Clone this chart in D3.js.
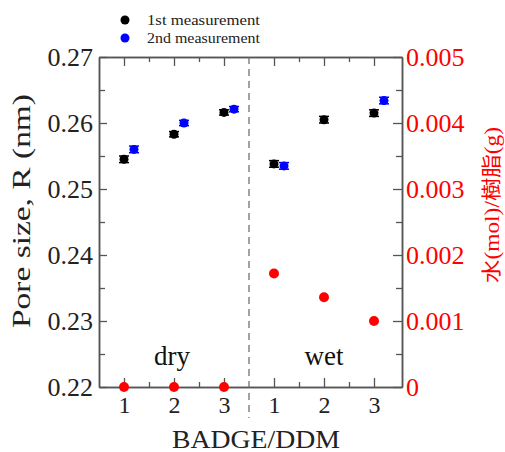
<!DOCTYPE html>
<html>
<head>
<meta charset="utf-8">
<script src="https://cdn.jsdelivr.net/npm/d3@7"></script>
<style>
  body { margin: 0; background: #fff; }
  svg { display: block; }
  svg text { font-family: "Liberation Serif", "Times New Roman", Times, serif; }
  svg text.cjk { font-family: "Liberation Serif", "Noto Sans CJK JP", serif; }
</style>
</head>
<body>
<div class="chart"></div>
<script>
// sample positions: dry 1-3 then wet 1-3
var xPos = [1, 2, 3, 4, 5, 6];
var xTickLabels = ["1", "2", "3", "1", "2", "3"];

// pore size (nm), 1st and 2nd measurement
var firstMeas = [0.2545, 0.2583, 0.2616, 0.2538, 0.2605, 0.2615];
var firstErr  = [0.0005, 0.0004, 0.0004, 0.0005, 0.0005, 0.0005];
var secondMeas = [0.2560, 0.2600, 0.2621, 0.2535, null, 0.2634];
var secondErr  = [0.0005, 0.0004, 0.0004, 0.0005, null, 0.0005];

// water (mol) / resin (g)
var water = [0, 0, 0, 0.00172, 0.00136, 0.00100];

var leftMajor = [0.22, 0.23, 0.24, 0.25, 0.26, 0.27];
var leftMinor = [0.225, 0.235, 0.245, 0.255, 0.265];
var rightMajor = [0, 0.001, 0.002, 0.003, 0.004, 0.005];
var rightMinor = [0.0005, 0.0015, 0.0025, 0.0035, 0.0045];
var xMinor = [1.5, 2.5, 4.5, 5.5];

var width = 505,
    height = 452;

// plot box (note: "top" is reserved on window, so prefix)
var pLeft = 99, pRight = 402, pTop = 57, pBottom = 387;

var x = d3.scaleLinear().domain([0.5, 6.56]).range([pLeft, pRight]);
var yL = d3.scaleLinear().domain([0.22, 0.27]).range([pBottom, pTop]);
var yR = d3.scaleLinear().domain([0, 0.005]).range([pBottom, pTop]);

var svg = d3.select(".chart").append("svg")
    .attr("width", width)
    .attr("height", height);

var axisColor = "#555";

function styleAxis(g, textColor) {
    g.select(".domain").attr("stroke", axisColor).attr("stroke-width", 1.5);
    g.selectAll(".tick line").attr("stroke", axisColor).attr("stroke-width", 1.3);
    g.selectAll(".tick text").attr("fill", textColor);
}

// left axis
var gl = svg.append("g").attr("transform", "translate(" + pLeft + ",0)")
    .call(d3.axisLeft(yL).tickValues(leftMajor).tickSize(-8).tickSizeOuter(0).tickPadding(6)
        .tickFormat(d3.format(".2f")))
    .attr("font-size", 26);
styleAxis(gl, "#222");
svg.append("g").attr("transform", "translate(" + pLeft + ",0)")
    .call(d3.axisLeft(yL).tickValues(leftMinor).tickSize(-6).tickSizeOuter(0).tickFormat(""))
    .call(function(g) { styleAxis(g, "#222"); });

// right axis
var gr = svg.append("g").attr("transform", "translate(" + pRight + ",0)")
    .call(d3.axisRight(yR).tickValues(rightMajor).tickSize(-9).tickSizeOuter(0).tickPadding(4)
        .tickFormat(function(d) { return d == 0 ? "0" : d3.format(".3f")(d); }))
    .attr("font-size", 26);
styleAxis(gr, "#ff0000");
svg.append("g").attr("transform", "translate(" + pRight + ",0)")
    .call(d3.axisRight(yR).tickValues(rightMinor).tickSize(-6).tickSizeOuter(0).tickFormat(""))
    .call(function(g) { styleAxis(g, "#ff0000"); });

// bottom axis
var gb = svg.append("g").attr("transform", "translate(0," + pBottom + ")")
    .call(d3.axisBottom(x).tickValues(xPos).tickSize(-9).tickSizeOuter(0).tickPadding(9)
        .tickFormat(function(d, i) { return xTickLabels[i]; }))
    .attr("font-size", 24);
styleAxis(gb, "#222");
svg.append("g").attr("transform", "translate(0," + pBottom + ")")
    .call(d3.axisBottom(x).tickValues(xMinor).tickSize(-5).tickSizeOuter(0).tickFormat(""))
    .call(function(g) { styleAxis(g, "#222"); });

// top axis
svg.append("g").attr("transform", "translate(0," + pTop + ")")
    .call(d3.axisTop(x).tickValues(xPos).tickSize(-9).tickSizeOuter(0).tickFormat(""))
    .call(function(g) { styleAxis(g, "#222"); });
svg.append("g").attr("transform", "translate(0," + pTop + ")")
    .call(d3.axisTop(x).tickValues(xMinor).tickSize(-5).tickSizeOuter(0).tickFormat(""))
    .call(function(g) { styleAxis(g, "#222"); });

// dry / wet divider
svg.append("line")
    .attr("x1", x(3.5)).attr("x2", x(3.5))
    .attr("y1", pTop).attr("y2", 418)
    .attr("stroke", "#666")
    .attr("stroke-width", 1.2)
    .attr("stroke-dasharray", "7,5");

// region labels
svg.append("text").attr("x", x(2) - 2).attr("y", 365)
    .attr("text-anchor", "middle").attr("font-size", 27).attr("fill", "#111").text("dry");
svg.append("text").attr("x", x(5)).attr("y", 365)
    .attr("text-anchor", "middle").attr("font-size", 27).attr("fill", "#111").text("wet");

// error bars + points
function drawSeries(values, errs, offset, color) {
    var pts = [];
    for (var i = 0; i < values.length; i++)
        if (values[i] != null) pts.push({ x: xPos[i] + offset, v: values[i], e: errs[i] });

    var g = svg.append("g");
    var bars = g.selectAll(".err").data(pts).enter().append("g")
        .attr("stroke", color).attr("stroke-width", 1.5);
    bars.append("line")
        .attr("x1", function(d) { return x(d.x); })
        .attr("x2", function(d) { return x(d.x); })
        .attr("y1", function(d) { return yL(d.v - d.e); })
        .attr("y2", function(d) { return yL(d.v + d.e); });
    bars.append("line")
        .attr("x1", function(d) { return x(d.x) - 5; })
        .attr("x2", function(d) { return x(d.x) + 5; })
        .attr("y1", function(d) { return yL(d.v - d.e); })
        .attr("y2", function(d) { return yL(d.v - d.e); });
    bars.append("line")
        .attr("x1", function(d) { return x(d.x) - 5; })
        .attr("x2", function(d) { return x(d.x) + 5; })
        .attr("y1", function(d) { return yL(d.v + d.e); })
        .attr("y2", function(d) { return yL(d.v + d.e); });
    g.selectAll("circle").data(pts).enter().append("circle")
        .attr("cx", function(d) { return x(d.x); })
        .attr("cy", function(d) { return yL(d.v); })
        .attr("r", 4.5)
        .attr("fill", color);
}
drawSeries(firstMeas, firstErr, 0, "#000");
drawSeries(secondMeas, secondErr, 0.2, "#0000ff");

// water content on right axis
svg.append("g").selectAll("circle").data(water).enter().append("circle")
    .attr("cx", function(d, i) { return x(xPos[i]); })
    .attr("cy", function(d) { return yR(d); })
    .attr("r", 5)
    .attr("fill", "#ff0000");

// axis titles
svg.append("text")
    .attr("transform", "translate(30,211) rotate(-90)")
    .attr("text-anchor", "middle")
    .attr("font-size", 25)
    .attr("fill", "#222")
    .attr("textLength", 234)
    .attr("lengthAdjust", "spacingAndGlyphs")
    .text("Pore size, R (nm)");

svg.append("text")
    .attr("class", "cjk")
    .attr("transform", "translate(499,205) rotate(-90)")
    .attr("text-anchor", "middle")
    .attr("font-size", 20)
    .attr("fill", "#ff0000")
    .attr("textLength", 156)
    .attr("lengthAdjust", "spacingAndGlyphs")
    .text("水(mol)/樹脂(g)");

svg.append("text")
    .attr("x", 256).attr("y", 448)
    .attr("text-anchor", "middle")
    .attr("font-size", 25)
    .attr("fill", "#222")
    .attr("textLength", 168)
    .attr("lengthAdjust", "spacingAndGlyphs")
    .text("BADGE/DDM");

// legend
var legendNames = ["1st measurement", "2nd measurement"];
var legendColors = ["#000", "#0000ff"];
var lg = svg.append("g").selectAll("g").data(legendNames).enter().append("g")
    .attr("transform", function(d, i) { return "translate(125," + (20 + i * 18) + ")"; });
lg.append("circle").attr("r", 4.5).attr("fill", function(d, i) { return legendColors[i]; });
lg.append("text")
    .attr("x", 22).attr("y", 5)
    .attr("font-size", 15)
    .attr("fill", "#222")
    .attr("textLength", 113)
    .attr("lengthAdjust", "spacingAndGlyphs")
    .text(function(d) { return d; });
</script>
</body>
</html>
